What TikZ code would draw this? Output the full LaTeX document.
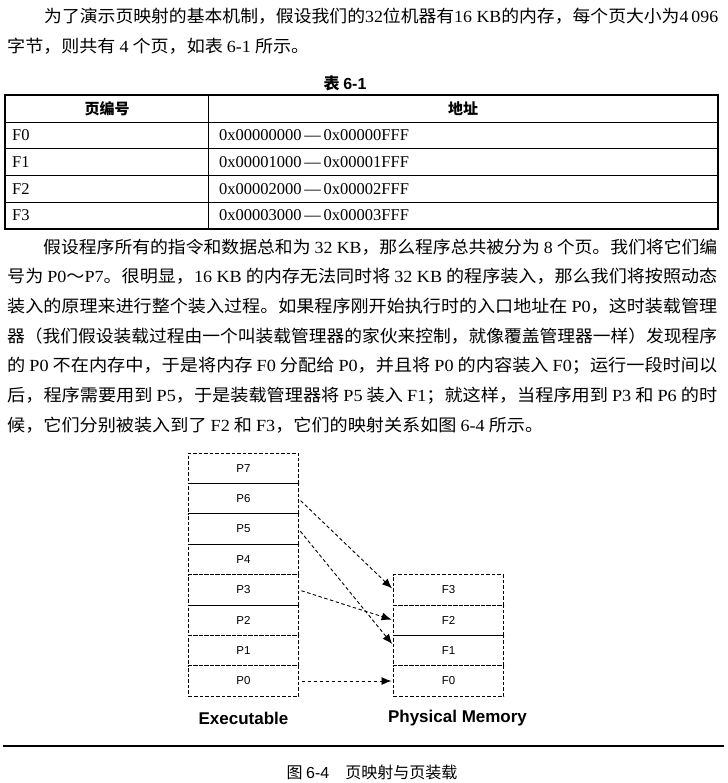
\documentclass[tikz,border=0pt]{standalone}
\usepackage{fontspec}
\usepackage{graphicx}
\setmainfont{Liberation Serif}
\setsansfont{Liberation Sans}
\newfontfamily\cjk{Noto Sans CJK SC}
\usetikzlibrary{positioning,arrows.meta}

\newcommand\lt[1]{{\rmfamily #1}}
\newcommand\bodyline[2]{\resizebox{#1pt}{\height}{\fontsize{17}{20}\cjk #2}}

\tikzset{
  txt/.style={anchor=west,inner sep=0pt},
  cell/.style={draw,dash pattern=on 3.5pt off 2pt,line width=.9pt,
    minimum width=110pt,minimum height=30.4pt,inner sep=0pt,outer sep=0pt,
    font=\sffamily\fontsize{11.5}{13}\selectfont},
  maparrow/.style={dash pattern=on 3.5pt off 2.5pt,line width=.9pt,
    -{Latex[length=10pt,width=8pt]},shorten <=3pt,shorten >=2pt},
  lbl/.style={inner sep=0pt,font=\sffamily\bfseries\fontsize{17}{20}\selectfont}
}

\begin{document}
\begin{tikzpicture}[x=1pt,y=-1pt]
  \path[fill=white,use as bounding box] (0,0) rectangle (727,783);
  % first paragraph
  \node[txt] (l1) at (44,16) {\bodyline{674}{为了演示页映射的基本机制，假设我们的\lt{32}位机器有\lt{16 KB}的内存，每个页大小为\lt{4\,096}}};
  \node[txt] (l2) at (7,46) {\bodyline{302}{字节，则共有 \lt{4} 个页，如表 \lt{6-1} 所示。}};
  % table 6-1
  \node (tabcap) at (345,83) {\cjk\bfseries\fontsize{16}{18}\selectfont 表 {\sffamily 6-1}};
  \draw[line width=1.2pt] (5,95) rectangle (718,229);
  \foreach \y in {122,148,175,202} \draw[line width=.9pt] (5,\y) -- (718,\y);
  \draw[line width=.9pt] (208,95) -- (208,229);
  \node (hdno) at (107,108.5) {\cjk\bfseries\fontsize{15}{17}\selectfont 页编号};
  \node (hdaddr) at (463,108.5) {\cjk\bfseries\fontsize{15}{17}\selectfont 地址};
  \foreach \i in {0,...,3}{
    \node[txt] (row\i) at (12,135+26.8*\i) {\fontsize{16.5}{18}\selectfont F\i};
    \node[txt] (addr\i) at (219,135+26.8*\i)
      {\fontsize{16.5}{18}\selectfont 0x0000\i000\,---\,0x0000\i FFF};
  }
  % second paragraph
  \node[txt] (m1) at (43,247) {\bodyline{674}{假设程序所有的指令和数据总和为 \lt{32 KB}，那么程序总共被分为 \lt{8} 个页。我们将它们编}};
  \node[txt] (m2) at (7,276.7) {\bodyline{710}{号为 \lt{P0}～\lt{P7}。很明显，\lt{16 KB} 的内存无法同时将 \lt{32 KB} 的程序装入，那么我们将按照动态}};
  \node[txt] (m3) at (7,306.4) {\bodyline{710}{装入的原理来进行整个装入过程。如果程序刚开始执行时的入口地址在 \lt{P0}，这时装载管理}};
  \node[txt] (m4) at (7,336) {\bodyline{710}{器（我们假设装载过程由一个叫装载管理器的家伙来控制，就像覆盖管理器一样）发现程序}};
  \node[txt] (m5) at (7,365.8) {\bodyline{710}{的 \lt{P0} 不在内存中，于是将内存 \lt{F0} 分配给 \lt{P0}，并且将 \lt{P0} 的内容装入 \lt{F0}；运行一段时间以}};
  \node[txt] (m6) at (7,395.5) {\bodyline{710}{后，程序需要用到 \lt{P5}，于是装载管理器将 \lt{P5} 装入 \lt{F1}；就这样，当程序用到 \lt{P3} 和 \lt{P6} 的时}};
  \node[txt] (m7) at (7,425) {\bodyline{536}{候，它们分别被装入到了 \lt{F2} 和 \lt{F3}，它们的映射关系如图 \lt{6-4} 所示。}};
  % figure 6-4
  \node[cell] (p0) at (243.5,681) {P0};
  \foreach \i/\j in {1/0,2/1,3/2,4/3,5/4,6/5,7/6}
    \node[cell,above=0pt of p\j] (p\i) {P\i};
  \node[cell] (f0) at (448.5,681) {F0};
  \foreach \i/\j in {1/0,2/1,3/2}
    \node[cell,above=0pt of f\j] (f\i) {F\i};
  \foreach \n in {p6,p5,p4,p2,f1}
    \draw[line width=.9pt] (\n.north west) -- (\n.north east);
  \draw[maparrow] (p0.east) -- (f0.west);
  \draw[maparrow] (p3.east) -- (f2.west);
  \draw[maparrow] (p5.east) -- ([yshift=5pt]f1.west);
  \draw[maparrow] (p6.east) -- (f3.west);
  \node[lbl,below=16pt of p0] (exe) {Executable};
  \node[lbl,below=14pt of f0,xshift=9pt] (phys) {Physical Memory};
  \draw[line width=1.2pt] (3,746) -- (724,746);
  \node (figcap) at (372,772) {\cjk\fontsize{16}{18}\selectfont 图 {\sffamily 6-4}\quad 页映射与页装载};
\end{tikzpicture}
\end{document}
